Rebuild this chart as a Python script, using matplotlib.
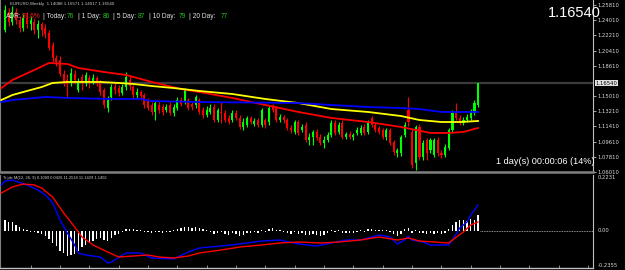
import numpy as np
import matplotlib.pyplot as plt

# EURUSD weekly candles, oldest first
opens = [1.2284, 1.2498, 1.2379, 1.2498, 1.2403, 1.2308, 1.2427, 1.2355, 1.2379, 1.2284,
         1.2355, 1.2308, 1.2249, 1.2106, 1.1952, 1.1928, 1.1762, 1.1691, 1.1656, 1.1762,
         1.1573, 1.1727, 1.1656, 1.1715, 1.1668, 1.1715, 1.1656, 1.1573, 1.1359, 1.1490,
         1.1608, 1.1596, 1.1537, 1.1608, 1.1691, 1.1608, 1.1513, 1.1549, 1.1513, 1.1454,
         1.1395, 1.1312, 1.1395, 1.1371, 1.1335, 1.1395, 1.1300, 1.1359, 1.1454, 1.1430,
         1.1454, 1.1407, 1.1395, 1.1454, 1.1335, 1.1276, 1.1312, 1.1371, 1.1217, 1.1312,
         1.1300, 1.1241, 1.1217, 1.1300, 1.1241, 1.1134, 1.1158, 1.1241, 1.1169, 1.1217,
         1.1158, 1.1217, 1.1193, 1.1371, 1.1359, 1.1217, 1.1252, 1.1217, 1.1122, 1.1075,
         1.1193, 1.1098, 1.1158, 1.0980, 1.1015, 1.1075, 1.1015, 1.0944, 1.0980, 1.1039,
         1.1181, 1.1075, 1.1181, 1.1015, 1.1051, 1.1015, 1.1063, 1.1063, 1.1134, 1.1075,
         1.1241, 1.1158, 1.1122, 1.1098, 1.1015, 1.1098, 1.0956, 1.0825, 1.0825, 1.1039,
         1.1335, 1.1075, 1.0707, 1.1134, 1.0778, 1.0980, 1.0861, 1.0802, 1.0980, 1.0825,
         1.0802, 1.0885, 1.1098, 1.1300, 1.1241, 1.1181, 1.1217, 1.1241, 1.1300, 1.1395]
closes = [1.2521, 1.2379, 1.2498, 1.2403, 1.2308, 1.2427, 1.2355, 1.2403, 1.2284, 1.2355,
          1.2284, 1.2237, 1.2071, 1.1952, 1.1905, 1.1762, 1.1644, 1.1644, 1.1774, 1.1691,
          1.1668, 1.1656, 1.1751, 1.1668, 1.1715, 1.1668, 1.1549, 1.1395, 1.1454, 1.1608,
          1.1573, 1.1537, 1.1608, 1.1727, 1.1620, 1.1513, 1.1549, 1.1501, 1.1395, 1.1359,
          1.1312, 1.1418, 1.1335, 1.1312, 1.1371, 1.1300, 1.1371, 1.1454, 1.1407, 1.1573,
          1.1359, 1.1371, 1.1490, 1.1312, 1.1276, 1.1335, 1.1359, 1.1217, 1.1335, 1.1300,
          1.1217, 1.1193, 1.1300, 1.1241, 1.1134, 1.1193, 1.1241, 1.1193, 1.1205, 1.1158,
          1.1335, 1.1158, 1.1359, 1.1335, 1.1217, 1.1252, 1.1217, 1.1122, 1.1098, 1.1193,
          1.1063, 1.1134, 1.0980, 1.1015, 1.1075, 1.1003, 1.0944, 1.0980, 1.1039, 1.1181,
          1.1063, 1.1158, 1.1015, 1.1051, 1.1015, 1.1039, 1.1098, 1.1122, 1.1063, 1.1181,
          1.1158, 1.1098, 1.1075, 1.1015, 1.1098, 1.0944, 1.0837, 1.0861, 1.1015, 1.1158,
          1.1193, 1.0683, 1.1134, 1.0778, 1.0944, 1.0825, 1.0980, 1.0980, 1.0825, 1.0802,
          1.0897, 1.1098, 1.1300, 1.1241, 1.1181, 1.1217, 1.1252, 1.1312, 1.1418, 1.1654]
highs = [1.2581, 1.2545, 1.2569, 1.2545, 1.2450, 1.2474, 1.2498, 1.2450, 1.2427, 1.2403,
         1.2379, 1.2355, 1.2284, 1.2142, 1.1988, 1.1976, 1.1810, 1.1762, 1.1834, 1.1810,
         1.1715, 1.1762, 1.1786, 1.1751, 1.1762, 1.1739, 1.1691, 1.1596, 1.1501, 1.1644,
         1.1668, 1.1632, 1.1644, 1.1786, 1.1739, 1.1632, 1.1596, 1.1573, 1.1537, 1.1478,
         1.1430, 1.1454, 1.1430, 1.1407, 1.1407, 1.1430, 1.1407, 1.1490, 1.1490, 1.1596,
         1.1478, 1.1430, 1.1513, 1.1478, 1.1371, 1.1383, 1.1407, 1.1407, 1.1359, 1.1430,
         1.1335, 1.1276, 1.1335, 1.1335, 1.1276, 1.1241, 1.1264, 1.1264, 1.1241, 1.1241,
         1.1359, 1.1241, 1.1383, 1.1407, 1.1383, 1.1288, 1.1276, 1.1241, 1.1158, 1.1217,
         1.1217, 1.1169, 1.1193, 1.1063, 1.1098, 1.1110, 1.1051, 1.1027, 1.1075, 1.1217,
         1.1217, 1.1193, 1.1217, 1.1075, 1.1086, 1.1063, 1.1134, 1.1158, 1.1169, 1.1217,
         1.1264, 1.1181, 1.1146, 1.1122, 1.1122, 1.1122, 1.0980, 1.0885, 1.1039, 1.1193,
         1.1490, 1.1122, 1.1158, 1.1169, 1.0980, 1.1003, 1.1003, 1.1003, 1.1015, 1.0861,
         1.0932, 1.1122, 1.1335, 1.1418, 1.1276, 1.1252, 1.1288, 1.1347, 1.1454, 1.1657]
lows = [1.2260, 1.2332, 1.2344, 1.2355, 1.2260, 1.2272, 1.2308, 1.2284, 1.2237, 1.2189,
        1.2213, 1.2189, 1.2047, 1.1905, 1.1857, 1.1739, 1.1620, 1.1490, 1.1620, 1.1644,
        1.1549, 1.1573, 1.1620, 1.1596, 1.1644, 1.1620, 1.1513, 1.1359, 1.1312, 1.1454,
        1.1525, 1.1501, 1.1513, 1.1573, 1.1573, 1.1478, 1.1478, 1.1454, 1.1359, 1.1335,
        1.1276, 1.1217, 1.1300, 1.1276, 1.1312, 1.1276, 1.1264, 1.1335, 1.1383, 1.1407,
        1.1335, 1.1335, 1.1359, 1.1288, 1.1241, 1.1252, 1.1288, 1.1193, 1.1193, 1.1181,
        1.1193, 1.1169, 1.1193, 1.1217, 1.1110, 1.1098, 1.1134, 1.1169, 1.1146, 1.1134,
        1.1134, 1.1122, 1.1158, 1.1312, 1.1193, 1.1193, 1.1181, 1.1098, 1.1063, 1.1051,
        1.1039, 1.1075, 1.0956, 1.0920, 1.0920, 1.0980, 1.0920, 1.0885, 1.0956, 1.1015,
        1.1039, 1.1051, 1.0992, 1.0992, 1.0992, 1.0980, 1.1039, 1.1039, 1.1039, 1.1051,
        1.1134, 1.1075, 1.1051, 1.0992, 1.0980, 1.0920, 1.0802, 1.0778, 1.0790, 1.1015,
        1.1146, 1.0648, 1.0624, 1.0742, 1.0742, 1.0742, 1.0825, 1.0778, 1.0790, 1.0766,
        1.0778, 1.0861, 1.1075, 1.1217, 1.1158, 1.1158, 1.1193, 1.1217, 1.1276, 1.1371]

# moving averages (bar number, price)
ma_red_bars = [-1, 2, 8, 12, 17, 20, 27, 33, 40, 48, 53, 62, 71, 80, 89, 99, 108, 116, 121, 125, 129]
ma_red = [1.1596, 1.1691, 1.1810, 1.1893, 1.1881, 1.1834, 1.1786, 1.1751, 1.1668, 1.1584, 1.1549,
          1.1478, 1.1395, 1.1312, 1.1241, 1.1193, 1.1134, 1.1063, 1.1063, 1.1075, 1.1122]
ma_yellow_bars = [-1, 2, 6, 10, 13, 17, 26, 31, 35, 40, 46, 53, 62, 71, 80, 89, 99, 108, 113, 119, 124, 129]
ma_yellow = [1.1454, 1.1513, 1.1561, 1.1608, 1.1656, 1.1668, 1.1668, 1.1656, 1.1644, 1.1620, 1.1596,
             1.1561, 1.1525, 1.1466, 1.1418, 1.1347, 1.1312, 1.1264, 1.1217, 1.1193, 1.1193, 1.1205]
ma_blue_bars = [-1, 2, 8, 11, 17, 29, 37, 40, 53, 80, 89, 99, 108, 113, 119, 129]
ma_blue = [1.1430, 1.1454, 1.1478, 1.1490, 1.1478, 1.1466, 1.1466, 1.1442, 1.1430, 1.1418, 1.1395,
           1.1371, 1.1359, 1.1347, 1.1312, 1.1312]

# Triple MACD panel
macd_bars = [-1, 0, 2, 6, 9, 11, 13, 15, 17, 19, 20, 22, 26, 28, 29, 33, 37, 40, 46, 50, 53, 59, 64,
             70, 75, 80, 85, 89, 93, 97, 102, 105, 107, 109, 110, 111, 114, 116, 121, 122, 124, 126,
             127, 129]
macd = [0.184, 0.200, 0.204, 0.184, 0.164, 0.144, 0.112, 0.044, -0.008, -0.056, -0.088, -0.096,
        -0.104, -0.128, -0.124, -0.088, -0.088, -0.108, -0.112, -0.084, -0.068, -0.060, -0.052,
        -0.040, -0.036, -0.052, -0.060, -0.048, -0.036, -0.036, -0.016, -0.024, -0.052, -0.036,
        -0.020, -0.036, -0.044, -0.056, -0.056, -0.036, 0.012, 0.036, 0.064, 0.104]
signal_bars = [-1, 2, 5, 8, 10, 13, 16, 19, 21, 24, 28, 31, 35, 39, 42, 46, 50, 53, 59, 64, 70, 75,
               80, 86, 91, 97, 102, 107, 110, 113, 121, 122, 125, 127, 129]
signal = [0.152, 0.176, 0.188, 0.184, 0.172, 0.136, 0.072, 0.016, -0.024, -0.056, -0.084, -0.104,
          -0.100, -0.096, -0.104, -0.108, -0.100, -0.088, -0.076, -0.064, -0.056, -0.048, -0.044,
          -0.048, -0.044, -0.036, -0.024, -0.036, -0.028, -0.040, -0.048, -0.036, -0.004, 0.024,
          0.036]
hist = [0.044, 0.036, 0.036, 0.024, 0.016, 0.008, 0.004, -0.004, -0.004, -0.008,
        -0.012, -0.020, -0.032, -0.048, -0.060, -0.080, -0.088, -0.100, -0.096, -0.092,
        -0.080, -0.064, -0.056, -0.048, -0.040, -0.032, -0.028, -0.036, -0.040, -0.028,
        -0.016, -0.012, -0.004, 0.008, 0.008, 0.008, 0.004, 0.004, -0.004, -0.004,
        -0.008, -0.004, -0.004, -0.008, -0.004, -0.004, 0.004, 0.008, 0.012, 0.016,
        0.016, 0.012, 0.016, 0.012, 0.008, 0.004, -0.004, -0.012, -0.008, -0.004,
        -0.012, -0.016, -0.008, -0.012, -0.020, -0.016, -0.008, -0.008, -0.004, -0.008,
        0.004, -0.004, 0.008, 0.012, 0.004, 0.004, -0.004, -0.008, -0.012, -0.004,
        -0.012, -0.008, -0.016, -0.016, -0.012, -0.016, -0.020, -0.016, -0.008, 0.004,
        -0.004, 0.004, -0.008, -0.008, -0.008, -0.008, -0.004, 0.004, -0.004, 0.008,
        0.008, 0.004, 0.004, 0.004, 0.004, -0.004, -0.012, -0.020, -0.012, 0.008,
        0.012, -0.008, 0.004, -0.008, -0.008, -0.012, -0.008, -0.012, -0.008, -0.012,
        -0.008, 0.008, 0.024, 0.036, 0.044, 0.044, 0.040, 0.048, 0.044, 0.064]

price_ticks = [1.25810, 1.24010, 1.22210, 1.20410, 1.18610, 1.15010,
               1.13210, 1.11410, 1.09610, 1.07810, 1.06010]
header = "EURUSD,Weekly  1.14088 1.16571 1.14017 1.16540"
macd_title = "Triple M(12, 26, 9) 0.1089 0.0426 11.2518 11.1429 1.1402"
adr_labels = ["ADR:", "| Today:", "| 1 Day:", "| 5 Day:", "| 10 Day:", "| 20 Day:"]
adr_values = ["97.6%", "76", "86", "87", "79", "77"]
timer_text = "1 day(s) 00:00:06 (14%)"

W, H = 625, 270
X_LEFT, X_RIGHT = -1.36, 160.35
SANS = ["Liberation Sans", "DejaVu Sans"]


def fx(px):
    return px / W


def fy(py):
    return 1 - py / H


def main():
    fig = plt.figure(figsize=(6.25, 2.70), dpi=100, facecolor="black")
    ax = fig.add_axes([0, fy(172), fx(593), 172 / H], facecolor="black")
    ax2 = fig.add_axes([0, fy(268), fx(593), 93 / H], facecolor="black")

    o = np.array(opens)
    c = np.array(closes)
    idx = np.arange(len(c))
    colors = np.where(c >= o, "#00ff00", "#ff0000")

    # price panel
    ax.axhline(closes[-1], color="#3c3c3c", lw=1.6, zorder=0)
    ax.vlines(idx, lows, highs, colors=colors, lw=0.8, zorder=2)
    body = np.maximum(np.abs(c - o), 0.0004)
    ax.bar(idx, body, bottom=np.minimum(o, c), width=0.62, color=colors,
           linewidth=0, zorder=2)
    ax.plot(ma_red_bars, ma_red, color="#ff0000", lw=1.3, zorder=3)
    ax.plot(ma_yellow_bars, ma_yellow, color="#ffff00", lw=1.3, zorder=3)
    ax.plot(ma_blue_bars, ma_blue, color="#0000ff", lw=1.3, zorder=3)

    ax.set_xlim(X_LEFT, X_RIGHT)
    ax.set_ylim(1.0600, 1.2640)
    ax.set_xticks([])
    ax.yaxis.tick_right()
    ax.set_yticks(price_ticks)
    ax.set_yticklabels([f"{t:.5f}" for t in price_ticks])
    ax.tick_params(axis="y", colors="#c0c0c0", labelcolor="#d8d8d8",
                   labelsize=3.8, length=2, width=0.6, pad=1)
    ax.text(1.004, closes[-1], f"{closes[-1]:.5f}", transform=ax.get_yaxis_transform(),
            fontsize=3.8, color="black", va="center", ha="left",
            bbox=dict(boxstyle="square,pad=0.15", fc="#e0e0e0", ec="none"))
    ax.spines["top"].set_visible(False)
    ax.spines["left"].set_color("#808080")
    ax.spines["right"].set_color("#c0c0c0")
    ax.spines["right"].set_linewidth(0.8)
    ax.spines["bottom"].set_color("#808080")
    ax.spines["bottom"].set_linewidth(1.8)

    # indicator panel
    ax2.bar(idx, hist, width=0.35, color="white", linewidth=0, zorder=2)
    ax2.plot(macd_bars, macd, color="#0000ff", lw=1.0, zorder=3)
    ax2.plot(signal_bars, signal, color="#ff0000", lw=1.0, zorder=3)
    ax2.hlines(0, len(c) - 0.5, X_RIGHT, colors="#c0c0c0",
               linestyles=(0, (1, 1)), lw=0.6)
    ax2.set_xlim(X_LEFT, X_RIGHT)
    ax2.set_ylim(-0.148, 0.224)
    ax2.set_yticks([])
    ax2.set_xticks(np.arange(7, 160, 8))
    ax2.set_xticklabels([])
    ax2.tick_params(axis="x", direction="in", length=2, width=0.6, colors="#a0a0a0")
    ax2.spines["top"].set_visible(False)
    ax2.spines["left"].set_color("#808080")
    ax2.spines["right"].set_color("#c0c0c0")
    ax2.spines["right"].set_linewidth(0.8)
    ax2.spines["bottom"].set_color("#c0c0c0")
    ax2.spines["bottom"].set_linewidth(1.0)
    tr = ax2.get_yaxis_transform()
    ax2.text(1.008, 0.2231, "0.2231", transform=tr, fontsize=3.8,
             color="#d8d8d8", va="top")
    ax2.text(1.008, 0, "0.00", transform=tr, fontsize=3.8,
             color="#d8d8d8", va="center")
    ax2.text(1.008, -0.148, "-0.2355", transform=tr, fontsize=3.8,
             color="#d8d8d8", va="bottom")

    # texts on top of the chart
    fig.text(fx(10), fy(4), header, fontsize=3.2, color="#c8c8c8",
             va="center", family=SANS)
    fig.text(fx(3), fy(178), macd_title, fontsize=2.9, color="#c8c8c8",
             va="center", family=SANS)
    label_x = [6, 43, 78, 113, 149, 189]
    value_x = [22, 67, 103, 138, 179, 221]
    for i, (lab, val) in enumerate(zip(adr_labels, adr_values)):
        fig.text(fx(label_x[i]), fy(16), lab, fontsize=4.8, color="#e0e0e0",
                 va="center", family=SANS)
        fig.text(fx(value_x[i]), fy(16), val, fontsize=4.8,
                 color="#ff2020" if i == 0 else "#20c020",
                 va="center", family=SANS)
    fig.text(fx(601), fy(17), f"{closes[-1]:.5f}", fontsize=10.5, color="white",
             ha="right", va="baseline", family=SANS)
    fig.text(fx(595), fy(162), timer_text, fontsize=6.6, color="white",
             ha="right", va="center", family=SANS)

    fig.savefig("out.png", dpi=100, facecolor="black")


if __name__ == "__main__":
    main()
